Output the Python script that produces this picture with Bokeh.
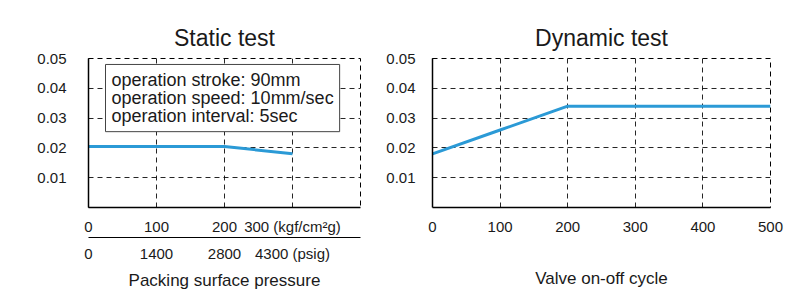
from bokeh.plotting import figure
from bokeh.layouts import row
from bokeh.models import Range1d, LinearAxis, FixedTicker, Label
from bokeh.embed import file_html
from bokeh.resources import INLINE

FONT = "Liberation Sans"

# data
static_x = [0, 200, 300]
static_y = [0.0205, 0.0205, 0.018]
dynamic_x = [0, 100, 200, 300, 400, 500]
dynamic_y = [0.018, 0.026, 0.034, 0.034, 0.034, 0.034]

y_ticks = [0.01, 0.02, 0.03, 0.04, 0.05]
static_ticks = [0, 100, 200, 300]
static_kgf_labels = ["0", "100", "200", "300 (kgf/cm²g)"]
static_psig_labels = ["0", "1400", "2800", "4300 (psig)"]
dynamic_ticks = [0, 100, 200, 300, 400, 500]
note_lines = ["operation stroke: 90mm", "operation speed: 10mm/sec", "operation interval: 5sec"]

LINE_COLOR = "#2b9ad6"
TXT = "#1a1a1a"


def style(p, xgrid):
    p.title.text_font = FONT
    p.title.text_font_size = "23px"
    p.title.text_font_style = "normal"
    p.title.align = "center"
    p.title.text_color = TXT
    p.title.standoff = 15
    p.outline_line_color = "black"
    p.outline_line_dash = "5 4"
    p.outline_line_width = 1
    p.xgrid.ticker = FixedTicker(ticks=xgrid)
    p.ygrid.ticker = FixedTicker(ticks=y_ticks)
    for g in (p.xgrid, p.ygrid):
        g.grid_line_color = "black"
        g.grid_line_dash = "5 4"
        g.grid_line_width = 1
        g.grid_line_alpha = 0.85
    ya = p.yaxis[0]
    ya.ticker = FixedTicker(ticks=y_ticks)
    ya.major_tick_line_color = None
    ya.minor_tick_line_color = None
    ya.axis_line_color = "black"
    ya.axis_line_width = 1.5
    ya.major_label_text_font = FONT
    ya.major_label_text_font_size = "15px"
    ya.major_label_text_color = TXT


def style_x(ax, standoff):
    ax.major_tick_line_color = None
    ax.minor_tick_line_color = None
    ax.axis_line_color = "black"
    ax.axis_line_width = 1.5
    ax.major_label_standoff = standoff
    ax.major_label_text_font = FONT
    ax.major_label_text_font_size = "15px"
    ax.major_label_text_color = TXT
    ax.axis_label_text_font = FONT
    ax.axis_label_text_font_size = "17px"
    ax.axis_label_text_font_style = "normal"
    ax.axis_label_text_color = TXT


# ---- Static test ----
p1 = figure(width=383, height=306, output_backend="svg", toolbar_location=None,
            title="Static test", x_range=Range1d(0, 400), y_range=Range1d(0, 0.05),
            min_border_left=88, min_border_right=23, min_border_top=58, min_border_bottom=99,
            background_fill_color="white", border_fill_color="white")
style(p1, [100, 200, 300, 400])
p1.yaxis[0].major_label_standoff = 16
xa = p1.xaxis[0]
xa.ticker = FixedTicker(ticks=static_ticks)
xa.major_label_overrides = {t: l for t, l in zip(static_ticks, static_kgf_labels)}
style_x(xa, 4)

xa2 = LinearAxis(ticker=FixedTicker(ticks=static_ticks),
                 major_label_overrides={t: l for t, l in zip(static_ticks, static_psig_labels)},
                 axis_label="Packing surface pressure")
style_x(xa2, 1)
xa2.axis_line_width = 1.2
xa2.axis_label_standoff = 6
p1.add_layout(xa2, "below")

p1.line(static_x, static_y, line_color=LINE_COLOR, line_width=3)

note = Label(x=25, y=0.048, text="\n".join(note_lines), text_font=FONT, text_font_size="18px",
             text_color=TXT, anchor="top_left", text_align="left", text_baseline="top",
             background_fill_color="white", border_line_color="#444444", border_line_width=1,
             padding=6, text_line_height=0.88)
p1.add_layout(note)

# ---- Dynamic test ----
p2 = figure(width=420, height=306, output_backend="svg", toolbar_location=None,
            title="Dynamic test", x_range=Range1d(0, 500), y_range=Range1d(0, 0.05),
            min_border_left=44, min_border_right=33, min_border_top=58, min_border_bottom=99,
            background_fill_color="white", border_fill_color="white")
style(p2, [100, 200, 300, 400, 500])
p2.yaxis[0].major_label_standoff = 11
xb = p2.xaxis[0]
xb.ticker = FixedTicker(ticks=dynamic_ticks)
style_x(xb, 8)
xb.axis_label = "Valve on-off cycle"
xb.axis_label_standoff = 34

p2.line(dynamic_x, dynamic_y, line_color=LINE_COLOR, line_width=3)

layout = row(p1, p2)
open("out.html", "w").write(file_html(layout, INLINE))
